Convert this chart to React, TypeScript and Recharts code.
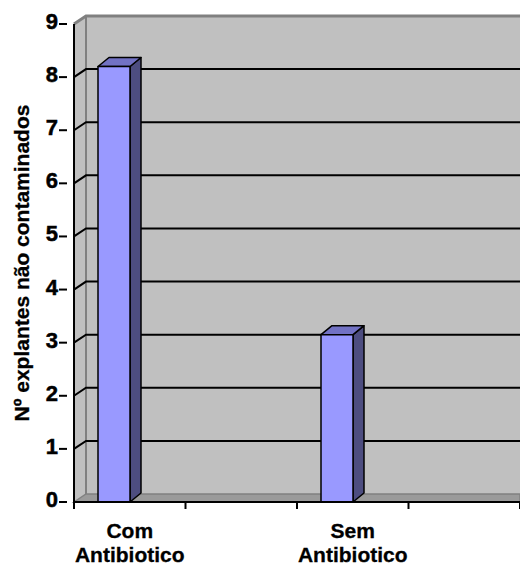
import { Bar, BarChart, CartesianGrid, XAxis, YAxis } from 'recharts';

const categories = ['Com Antibiotico', ' ', 'Sem Antibiotico', '  '];
const explantes = [8.2, null, 3.15, null];
const yTicks = [0, 1, 2, 3, 4, 5, 6, 7, 8, 9];

const data = categories.map((name, i) => ({ name, value: explantes[i] }));

// depth of the 3D walls and of the columns
const WALL_DX = 12;
const WALL_DY = 8;
const BAR_DX = 11;
const BAR_DY = 9;
const BAR_SHIFT = -16;
const FONT = '"Liberation Sans", Arial, sans-serif';

function GridLine(props: any) {
  const { x1, y1, x2, index, x, y, width, height } = props;
  const bx = x1 + WALL_DX;
  const top = Math.abs(y1 - y) < 1;
  const bottom = Math.abs(y1 - (y + height)) < 1;
  return (
    <g key={`gl-${index}`}>
      {index === 0 && (
        <g>
          <rect x={bx} y={y - WALL_DY} width={width} height={height} fill="#C0C0C0" />
          <polygon
            points={`${x},${y} ${bx},${y - WALL_DY} ${bx},${y + height - WALL_DY} ${x},${y + height}`}
            fill="#C0C0C0"
          />
          <polygon
            points={`${x},${y + height} ${bx},${y + height - WALL_DY} ${x + width},${y + height - WALL_DY} ${x + width},${y + height}`}
            fill="#9A9A9A"
            stroke="#808080"
            strokeWidth={1.5}
          />
          <line x1={bx} y1={y - WALL_DY} x2={bx} y2={y + height - WALL_DY} stroke="#808080" strokeWidth={2} />
        </g>
      )}
      {!bottom && (
        <polyline
          points={`${x1},${y1} ${bx},${y1 - WALL_DY} ${x2},${y1 - WALL_DY}`}
          fill="none"
          stroke={top ? '#808080' : '#000'}
          strokeWidth={top ? 3 : 2}
        />
      )}
    </g>
  );
}

function Column(props: any) {
  const { x, y, width, height } = props;
  if (height == null || height <= 0) return null;
  const l = x + BAR_SHIFT;
  const r = l + width;
  const b = y + height;
  return (
    <g stroke="#000" strokeWidth={1.5} strokeLinejoin="round">
      <polygon
        points={`${r},${y} ${r + BAR_DX},${y - BAR_DY} ${r + BAR_DX},${b - BAR_DY} ${r},${b}`}
        fill="#4D4D80"
      />
      <polygon
        points={`${l},${y} ${l + BAR_DX},${y - BAR_DY} ${r + BAR_DX},${y - BAR_DY} ${r},${y}`}
        fill="#7272C4"
      />
      <rect x={l} y={y} width={width} height={height} fill="#9999FF" />
    </g>
  );
}

function CategoryTick(props: any) {
  const { x, y, payload, index, visibleTicksCount } = props;
  const half = payload.offset ?? 55.75;
  const words = String(payload.value).trim().split(' ');
  const last = index === visibleTicksCount - 1;
  return (
    <g>
      <line x1={x - half} y1={y - 8} x2={x - half} y2={y - 1} stroke="#000" strokeWidth={2} />
      {last && <line x1={x + half} y1={y - 8} x2={x + half} y2={y - 1} stroke="#000" strokeWidth={2} />}
      {words.map((w, i) =>
        w ? (
          <text
            key={i}
            x={x}
            y={y + 28 + i * 24}
            textAnchor="middle"
            fontFamily={FONT}
            fontWeight="bold"
            fontSize={21}
            fill="#000"
            stroke="#000"
            strokeWidth={0.3}
          >
            {w}
          </text>
        ) : null,
      )}
    </g>
  );
}

function ValueTick(props: any) {
  const { x, y, payload } = props;
  return (
    <g>
      <line x1={x - 7} y1={y} x2={x + 1} y2={y} stroke="#000" strokeWidth={2} />
      <text
        x={x - 8}
        y={y + 5}
        textAnchor="end"
        fontFamily={FONT}
        fontWeight="bold"
        fontSize={22}
        fill="#000"
        stroke="#000"
        strokeWidth={0.5}
      >
        {payload.value}
      </text>
    </g>
  );
}

export default function App() {
  return (
    <div style={{ position: 'fixed', left: 0, top: 0, width: 520, height: 568, background: '#fff' }}>
      <BarChart
        width={520}
        height={568}
        data={data}
        margin={{ top: 24, right: 0, bottom: 0, left: 0 }}
        barSize={32}
      >
        <CartesianGrid vertical={false} horizontal={(p: any) => <GridLine {...p} />} />
        <XAxis
          dataKey="name"
          height={66}
          axisLine={{ stroke: '#000', strokeWidth: 2 }}
          tickLine={false}
          tick={<CategoryTick />}
          interval={0}
        />
        <YAxis
          width={74}
          domain={[0, 9]}
          ticks={yTicks}
          interval={0}
          axisLine={{ stroke: '#000', strokeWidth: 2 }}
          tickLine={false}
          tick={<ValueTick />}
          label={{
            value: 'Nº explantes não contaminados',
            angle: -90,
            position: 'insideLeft',
            dx: 17,
            style: {
              fontFamily: FONT,
              fontWeight: 'bold',
              fontSize: 21,
              fill: '#000',
              stroke: '#000',
              strokeWidth: 0.3,
              textAnchor: 'middle',
            },
          }}
        />
        <Bar dataKey="value" shape={<Column />} isAnimationActive={false} />
      </BarChart>
    </div>
  );
}
